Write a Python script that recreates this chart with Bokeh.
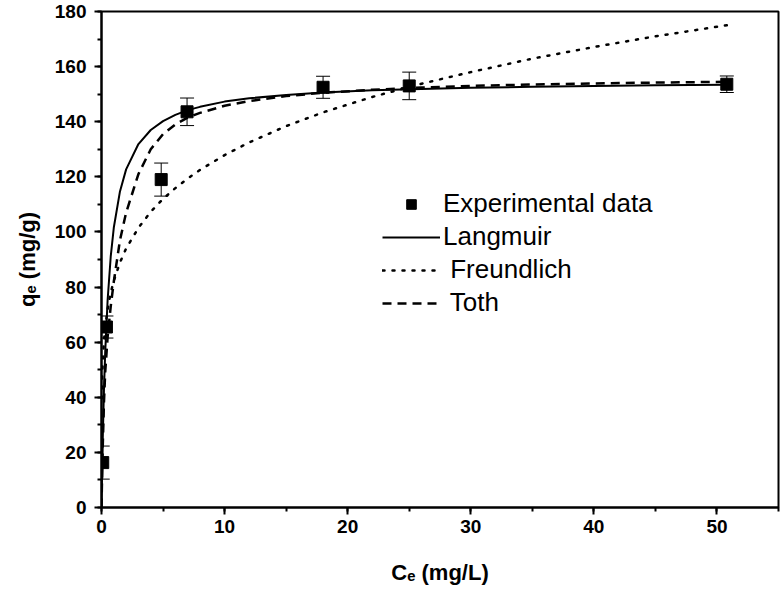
from bokeh.plotting import figure
from bokeh.models import (ColumnDataSource, Whisker, Legend, LegendItem, Range1d,
                          SingleIntervalTicker)
from bokeh.embed import file_html
from bokeh.resources import INLINE

# Experimental data
ce_exp = [0.1, 0.4, 4.85, 6.95, 18.0, 25.0, 50.8]
qe_exp = [16.3, 65.5, 119.0, 143.6, 152.5, 153.0, 153.6]
qe_err = [6.0, 4.0, 6.0, 5.0, 4.0, 5.0, 3.0]

# Model curves
ce_model = [0.0, 0.05, 0.1, 0.2, 0.3, 0.5, 0.75, 1, 1.5, 2, 3, 4, 5, 6, 7, 8, 10,
            12, 15, 18, 22, 26, 30, 35, 40, 45, 50.8]
q_langmuir = [0.0, 13.4, 24.7, 42.7, 56.3, 75.5, 91.1, 101.6, 114.7, 122.7, 131.9,
              137.0, 140.2, 142.5, 144.2, 145.4, 147.3, 148.5, 149.7, 150.6, 151.4,
              151.9, 152.3, 152.7, 153.0, 153.2, 153.4]
q_toth = [0.0, 12.0, 22.0, 38.0, 49.0, 62.0, 73.0, 82.0, 97.0, 107.0, 121.0, 130.0,
          135.5, 139.0, 141.5, 143.2, 145.8, 147.5, 149.3, 150.5, 151.6, 152.4,
          153.0, 153.5, 153.9, 154.2, 154.5]
ce_freund = [0.02, 0.05, 0.1, 0.2, 0.3, 0.5, 0.75, 1, 1.5, 2, 3, 4, 5, 6, 7, 8, 10,
             12, 15, 18, 22, 26, 30, 35, 40, 45, 50.8]
q_freund = [39.6, 46.6, 52.9, 60.4, 65.2, 72.1, 77.9, 82.3, 88.9, 94.0, 101.5, 107.3,
            112.0, 115.9, 119.4, 122.5, 127.9, 132.5, 138.4, 143.4, 149.0, 153.8,
            158.0, 162.9, 167.1, 171.0, 175.0]

FONT = "Liberation Sans"

p = figure(width=780, height=592, output_backend="svg", toolbar_location=None,
           x_range=Range1d(0, 55), y_range=Range1d(0, 180),
           min_border_left=101, min_border_right=2, min_border_top=11,
           min_border_bottom=85)
p.xgrid.visible = False
p.ygrid.visible = False
p.outline_line_color = "black"
p.outline_line_width = 2
p.background_fill_color = "white"
p.border_fill_color = "white"

p.xaxis.ticker = SingleIntervalTicker(interval=10, num_minor_ticks=2)
p.yaxis.ticker = SingleIntervalTicker(interval=20, num_minor_ticks=2)

for ax in (p.xaxis[0], p.yaxis[0]):
    ax.axis_line_width = 2
    ax.major_tick_line_width = 2
    ax.minor_tick_line_width = 2
    ax.major_tick_in = 0
    ax.major_tick_out = 7
    ax.minor_tick_in = 0
    ax.minor_tick_out = 4
    ax.major_label_text_font = FONT
    ax.major_label_text_font_style = "bold"
    ax.major_label_text_font_size = "19px"
    ax.major_label_text_color = "black"
    ax.axis_label_text_font = FONT
    ax.axis_label_text_font_style = "bold"
    ax.axis_label_text_font_size = "22px"
    ax.axis_label_text_color = "black"

p.xaxis.axis_label = "Cₑ (mg/L)"
p.yaxis.axis_label = "qₑ (mg/g)"
p.xaxis.major_label_standoff = 5
p.yaxis.major_label_standoff = 8
p.xaxis.axis_label_standoff = 24
p.yaxis.axis_label_standoff = 12

src = ColumnDataSource(dict(x=ce_exp, y=qe_exp,
                            lo=[q - e for q, e in zip(qe_exp, qe_err)],
                            hi=[q + e for q, e in zip(qe_exp, qe_err)]))

r_l = p.line(ce_model, q_langmuir, line_color="black", line_width=2)
r_f = p.line(ce_freund, q_freund, line_color="black", line_width=2.5,
             line_dash="2 8", line_cap="round")
r_t = p.line(ce_model, q_toth, line_color="black", line_width=2.5, line_dash="9 6")

wh = Whisker(source=src, base="x", lower="lo", upper="hi", line_color="black",
             line_width=1)
wh.upper_head.size = 14
wh.lower_head.size = 14
wh.upper_head.line_width = 1
wh.lower_head.line_width = 1
p.add_layout(wh)

r_s = p.scatter("x", "y", source=src, marker="square", size=12,
                fill_color="black", line_color="black")

legend = Legend(items=[
    LegendItem(label="Experimental data", renderers=[r_s]),
    LegendItem(label="Langmuir", renderers=[r_l]),
    LegendItem(label=" Freundlich", renderers=[r_f]),
    LegendItem(label=" Toth", renderers=[r_t]),
], location=(281, 189), glyph_width=58, glyph_height=24, label_standoff=3,
    label_height=24, spacing=2, padding=0, margin=0,
    border_line_color=None, background_fill_alpha=0,
    label_text_font=FONT, label_text_font_size="26px", label_text_color="black")
p.add_layout(legend)

open("out.html", "w").write(file_html(p, INLINE))
